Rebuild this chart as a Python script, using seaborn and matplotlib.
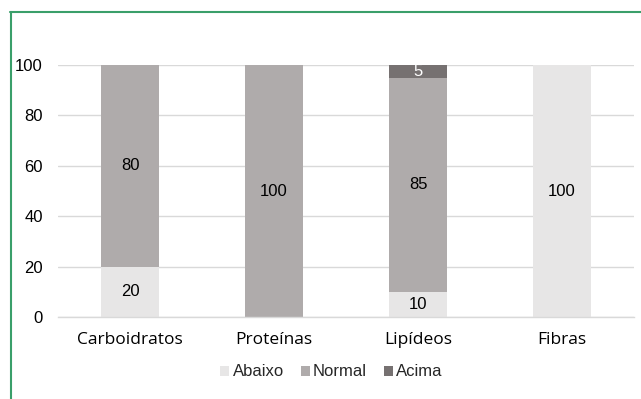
import matplotlib
matplotlib.use("Agg")
import matplotlib.pyplot as plt
import seaborn as sns
import pandas as pd
import numpy as np
from matplotlib.lines import Line2D
from matplotlib.patches import Patch

categories = ["Carboidratos", "Proteínas", "Lipídeos", "Fibras"]
abaixo = [20, 0, 10, 100]
normal = [80, 100, 85, 0]
acima = [0, 0, 5, 0]
series_names = ["Abaixo", "Normal", "Acima"]
colors = ["#e7e6e6", "#afabab", "#767171"]
label_colors = ["#000000", "#000000", "#ffffff"]
yticks = [0, 20, 40, 60, 80, 100]

sns.set_theme(style="white")
plt.rcParams["font.family"] = ["Liberation Sans", "DejaVu Sans"]

fig = plt.figure(figsize=(6.41, 3.99), dpi=100)
ax = fig.add_axes([58 / 641, 1 - 317 / 399, 576 / 641, (317 - 65) / 399])

vals = np.array([abaixo, normal, acima], dtype=float)
cum = np.cumsum(vals, axis=0)

# draw cumulative totals largest first so layers stack visually
for i in [2, 1, 0]:
    df = pd.DataFrame({"cat": categories, "val": cum[i]})
    sns.barplot(data=df, x="cat", y="val", color=colors[i], width=0.4,
                linewidth=0, saturation=1, ax=ax, order=categories)

# data labels
for i in range(3):
    for j, cat in enumerate(categories):
        v = vals[i, j]
        if v > 0:
            mid = cum[i, j] - v / 2
            ax.text(j, mid, f"{int(v)}", ha="center", va="center",
                    fontsize=12, color=label_colors[i],
                    family=["Liberation Sans", "DejaVu Sans"])

ax.set_ylim(0, 100)
ax.set_xlim(-0.5, 3.5)
ax.set_yticks(yticks)
ax.set_yticklabels([str(t) for t in yticks], fontsize=12, color="#000000")
ax.tick_params(axis="y", length=0, pad=11)
ax.tick_params(axis="x", length=0, pad=11)
for lbl in ax.get_xticklabels():
    lbl.set_fontsize(12.5)
    lbl.set_family(["Open Sans", "DejaVu Sans"])
    lbl.set_color("#000000")
ax.set_xlabel("")
ax.set_ylabel("")
ax.yaxis.grid(True, color="#d9d9d9", linewidth=1)
ax.set_axisbelow(True)
for s in ["top", "right", "left"]:
    ax.spines[s].set_visible(False)
ax.spines["bottom"].set_color("#d9d9d9")
ax.spines["bottom"].set_linewidth(1)

handles = [Patch(facecolor=c, edgecolor="none") for c in colors]
fig.legend(handles, series_names, loc="center", bbox_to_anchor=(0.517, 1 - 372 / 399),
           ncol=3, frameon=False, fontsize=12, handlelength=0.55, handleheight=0.55,
           handletextpad=0.2, columnspacing=1.0)

# green frame (top and left edges visible)
green = "#3a9f6a"
fig.add_artist(Line2D([10.5 / 641, 10.5 / 641], [0, 1 - 12 / 399], color=green,
                      linewidth=1.5, transform=fig.transFigure))
fig.add_artist(Line2D([10 / 641, 1], [1 - 12 / 399, 1 - 12 / 399], color=green,
                      linewidth=1.5, transform=fig.transFigure))

fig.savefig("out.png", dpi=100, facecolor="white")
